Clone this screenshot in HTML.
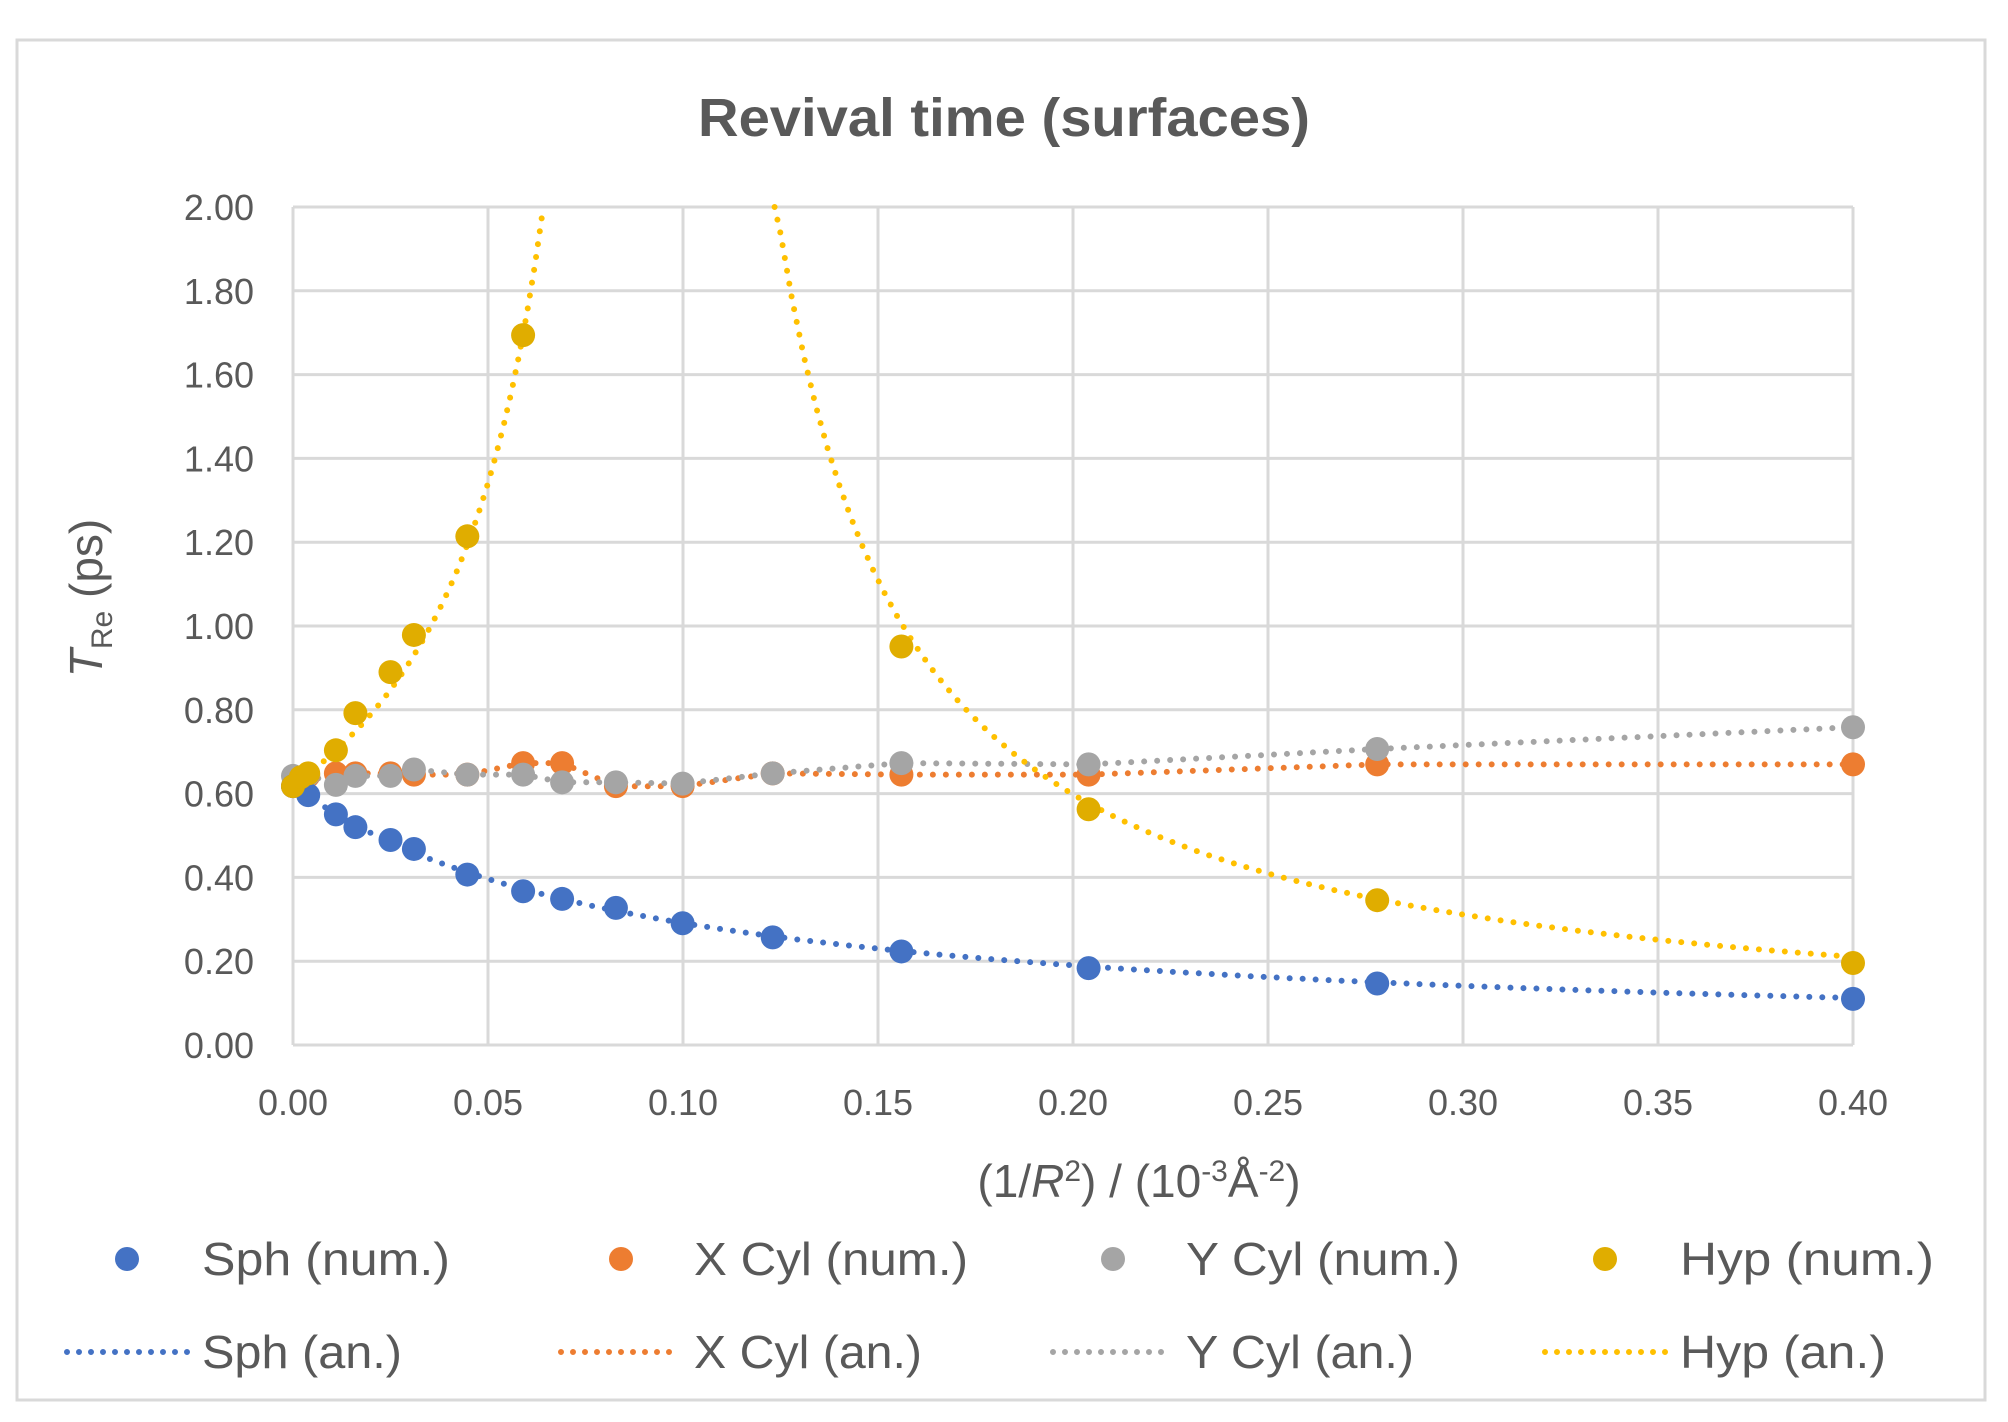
<!DOCTYPE html>
<html><head><meta charset="utf-8"><style>
html,body{margin:0;padding:0;background:#fff}
svg{display:block}
text{font-family:"Liberation Sans",sans-serif;fill:#595959}
</style></head><body>
<svg id="s" width="2008" height="1422" viewBox="0 0 2008 1422" xmlns="http://www.w3.org/2000/svg">
<rect x="17" y="40" width="1968" height="1360" fill="#fff" stroke="#d9d9d9" stroke-width="3"/>
<text x="1004" y="136" font-size="54" font-weight="bold" text-anchor="middle" textLength="612" lengthAdjust="spacingAndGlyphs">Revival time (surfaces)</text>
<g id="grid" stroke="#d9d9d9" stroke-width="3"></g>
<g font-size="36" text-anchor="end" id="yt"></g>
<g font-size="36" text-anchor="middle" id="xt"></g>
<text x="1139" y="1197" font-size="46" text-anchor="middle">(1/<tspan font-style="italic">R</tspan><tspan font-size="30" dy="-16">2</tspan><tspan dy="16">) / (10</tspan><tspan font-size="30" dy="-16">-3</tspan><tspan dy="16">Å</tspan><tspan font-size="30" dy="-16">-2</tspan><tspan dy="16">)</tspan></text>
<text transform="translate(102,598) rotate(-90)" font-size="46" text-anchor="middle"><tspan font-style="italic">T</tspan><tspan font-size="30" dy="10">Re</tspan><tspan dy="-10"> (ps)</tspan></text>
<g id="lines" fill="none" stroke-width="6" stroke-linecap="round" stroke-dasharray="0 13"></g>
<g id="pts"></g>
<g font-size="46">
<circle cx="127" cy="1259" r="12" fill="#4472C4"/><text x="202" y="1275" textLength="248" lengthAdjust="spacingAndGlyphs">Sph (num.)</text>
<circle cx="621" cy="1259" r="12" fill="#ED7D31"/><text x="694" y="1275" textLength="274" lengthAdjust="spacingAndGlyphs">X Cyl (num.)</text>
<circle cx="1113" cy="1259" r="12" fill="#A5A5A5"/><text x="1186" y="1275" textLength="274" lengthAdjust="spacingAndGlyphs">Y Cyl (num.)</text>
<circle cx="1605" cy="1259" r="12" fill="#E0AD00"/><text x="1680" y="1275" textLength="254" lengthAdjust="spacingAndGlyphs">Hyp (num.)</text>
<g stroke-width="6" stroke-linecap="round" stroke-dasharray="0 12">
<line x1="67" y1="1352" x2="189" y2="1352" stroke="#4472C4"/>
<line x1="561" y1="1352" x2="681" y2="1352" stroke="#ED7D31"/>
<line x1="1053" y1="1352" x2="1173" y2="1352" stroke="#A5A5A5"/>
<line x1="1545" y1="1352" x2="1667" y2="1352" stroke="#FFC000"/>
</g>
<text x="202" y="1368" textLength="200" lengthAdjust="spacingAndGlyphs">Sph (an.)</text>
<text x="694" y="1368" textLength="228" lengthAdjust="spacingAndGlyphs">X Cyl (an.)</text>
<text x="1186" y="1368" textLength="228" lengthAdjust="spacingAndGlyphs">Y Cyl (an.)</text>
<text x="1680" y="1368" textLength="206" lengthAdjust="spacingAndGlyphs">Hyp (an.)</text>
</g>
</svg>
<script>
var NS="http://www.w3.org/2000/svg";
function X(x){return 293+x*3900;}
function Y(y){return 1045-y*419;}
function el(p,t,a){var e=document.createElementNS(NS,t);for(var k in a)e.setAttribute(k,a[k]);document.getElementById(p).appendChild(e);return e;}
for(var i=0;i<=8;i++){var x=X(i*0.05);el("grid","line",{x1:x,y1:Y(2),x2:x,y2:Y(0)});
 var t=el("xt","text",{x:x,y:1115});t.textContent=(i*0.05).toFixed(2);}
for(var j=0;j<=10;j++){var y=Y(j*0.2);el("grid","line",{x1:X(0),y1:y,x2:X(0.4),y2:y});
 var t=el("yt","text",{x:254,y:y+13});t.textContent=(j*0.2).toFixed(2);}
var xs=[0,0.0039,0.011,0.016,0.025,0.031,0.0447,0.059,0.069,0.0828,0.0999,0.123,0.156,0.204,0.278,0.400];
function dy(a){return a.map(function(v){return (815-v)/327;});}
var xc=dy([613,605,603,603,603,604,604,595,595,613,613,603,604,604,596,596]);
var yc=dy([605,604,612,605,605,600,604,604,610,610,611,603,595,596,584,567]);
function path(xv,yv,c){var d="";for(var i=0;i<xv.length;i++)d+=(i?"L":"M")+X(xv[i]).toFixed(1)+" "+Y(yv[i]).toFixed(1);el("lines","path",{d:d,stroke:c});}
var fx=[],fy=[];for(var x=0;x<=0.4001;x+=0.005){fx.push(x);fy.push(0.62/(1+11.3*x));}
path(fx,fy,"#4472C4");
path(xs,xc,"#ED7D31");
path(xs,yc,"#A5A5A5");
var h1x=[],h1y=[];for(var x=0;x<=0.0641;x+=0.002){h1x.push(x);h1y.push(Math.min(2,0.62/(1-x/0.093)));}
h1x.push(0.0641);h1y.push(2);
path(h1x,h1y,"#FFC000");
var h2x=[0.1235],h2y=[2.0];
for(var x=0.125;x<=0.4001;x+=0.003){h2x.push(x);h2y.push(Math.min(2,0.0649/(x-0.0915)+ (x<0.156? 0:0)));}
path(h2x,h2y,"#FFC000");
function pts(xv,yv,c){for(var i=0;i<xv.length;i++)el("pts","circle",{cx:X(xv[i]),cy:Y(yv[i]),r:12,fill:c});}
pts(xs,xc,"#ED7D31");pts(xs,yc,"#A5A5A5");
pts(xs,dy([613,620,635,645,655,662,682,695,701,708,720,731,742,755,767,779]),"#4472C4");
var hx=[0,0.002,0.0039,0.011,0.016,0.025,0.031,0.0447,0.059,0.156,0.204,0.278,0.400];
var hy=dy([613,606,603,585,556,524,495,418,261,504,631,702,751]);
pts(hx,hy,"#E0AD00");
</script>
</body></html>
